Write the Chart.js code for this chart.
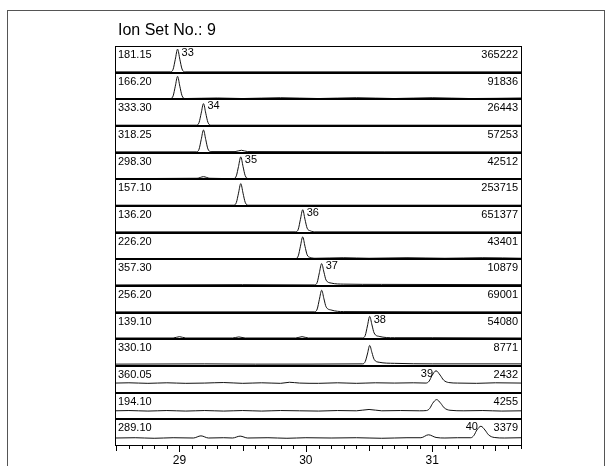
<!DOCTYPE html>
<html>
<head>
<meta charset="utf-8">
<script src="https://cdn.jsdelivr.net/npm/chart.js@4"></script>
<style>
    body { margin: 0; background: #fff; }
    #chartPicture { display: block; }
</style>
</head>
<body>
<canvas id="chartPicture" width="612" height="466"></canvas>
<script>
// ion traces, one panel each, top to bottom
const ionMasses = ["181.15", "166.20", "333.30", "318.25", "298.30", "157.10", "136.20", "226.20",
    "357.30", "256.20", "139.10", "330.10", "360.05", "194.10", "289.10"];
const maxIntensities = ["365222", "91836", "26443", "57253", "42512", "253715", "651377", "43401",
    "10879", "69001", "54080", "8771", "2432", "4255", "3379"];

// peak numbers: panel index, retention time, label side
const peakNumbers = ["33", "34", "35", "36", "37", "38", "39", "40"];
const peakPanels = [0, 2, 4, 6, 8, 10, 12, 14];
const peakTimes = [28.985, 29.19, 29.485, 29.975, 30.125, 30.505, 31.03, 31.385];
const peakSides = ["right", "right", "right", "right", "right", "right", "left", "left"];

const xTickLabels = [29, 30, 31];
const xMin = 28.49;
const xMax = 31.71;

// relative signal in each panel (0 = panel bottom, 1 = panel top), [time, value]
const trace181 = [[28.49,0.03],[28.93,0.03],[28.95,0.13],[28.967,0.5],[28.985,0.88],[29.003,0.5],[29.02,0.14],[29.045,0.03],[31.71,0.03]];
const trace166 = [[28.49,0.03],[28.93,0.03],[28.95,0.13],[28.967,0.49],[28.985,0.86],[29.003,0.49],[29.02,0.14],[29.045,0.03],[29.3,0.05],[29.5,0.03],[29.8,0.06],[30.1,0.03],[30.4,0.06],[30.7,0.03],[31.0,0.06],[31.3,0.03],[31.71,0.05]];
const trace333 = [[28.49,0.03],[29.135,0.03],[29.155,0.13],[29.172,0.48],[29.19,0.84],[29.208,0.48],[29.225,0.14],[29.25,0.03],[31.71,0.03]];
const trace318 = [[28.49,0.03],[29.135,0.03],[29.155,0.13],[29.172,0.49],[29.19,0.85],[29.208,0.49],[29.225,0.14],[29.25,0.04],[29.44,0.04],[29.49,0.09],[29.54,0.04],[31.71,0.03]];
const trace298 = [[28.49,0.03],[29.14,0.04],[29.19,0.1],[29.24,0.04],[29.43,0.03],[29.45,0.13],[29.467,0.48],[29.485,0.84],[29.503,0.48],[29.52,0.14],[29.545,0.03],[31.71,0.03]];
const trace157 = [[28.49,0.03],[29.43,0.03],[29.45,0.13],[29.467,0.48],[29.485,0.84],[29.503,0.48],[29.52,0.14],[29.545,0.03],[31.71,0.03]];
const trace136 = [[28.49,0.03],[29.92,0.03],[29.94,0.13],[29.957,0.5],[29.975,0.86],[29.993,0.5],[30.01,0.17],[30.035,0.07],[30.08,0.03],[31.71,0.03]];
const trace226 = [[28.49,0.03],[29.92,0.03],[29.94,0.13],[29.957,0.49],[29.975,0.84],[29.993,0.49],[30.01,0.17],[30.035,0.07],[30.08,0.04],[30.3,0.06],[30.5,0.04],[30.8,0.06],[31.1,0.04],[31.4,0.06],[31.71,0.04]];
const trace357 = [[28.49,0.04],[29.5,0.05],[30.07,0.04],[30.09,0.14],[30.107,0.5],[30.125,0.84],[30.143,0.52],[30.16,0.22],[30.2,0.11],[30.3,0.07],[30.6,0.06],[31.71,0.05]];
const trace256 = [[28.49,0.03],[30.07,0.03],[30.09,0.14],[30.107,0.5],[30.125,0.84],[30.143,0.52],[30.16,0.22],[30.2,0.1],[30.3,0.04],[31.71,0.03]];
const trace139 = [[28.49,0.05],[28.95,0.05],[29.0,0.1],[29.05,0.05],[29.42,0.05],[29.47,0.09],[29.52,0.05],[29.92,0.05],[29.97,0.1],[30.02,0.05],[30.45,0.05],[30.47,0.15],[30.487,0.5],[30.505,0.86],[30.523,0.54],[30.54,0.24],[30.58,0.11],[30.7,0.06],[31.0,0.06],[31.71,0.05]];
const trace330 = [[28.49,0.07],[29.2,0.08],[29.6,0.07],[30.45,0.08],[30.47,0.17],[30.487,0.45],[30.505,0.77],[30.523,0.5],[30.54,0.25],[30.58,0.14],[30.7,0.1],[31.0,0.08],[31.71,0.08]];
const trace360 = [[28.49,0.36],[28.6,0.37],[28.75,0.35],[28.9,0.37],[29.05,0.35],[29.2,0.36],[29.35,0.38],[29.5,0.35],[29.65,0.37],[29.8,0.35],[29.87,0.39],[29.95,0.36],[30.1,0.35],[30.25,0.37],[30.4,0.35],[30.55,0.37],[30.7,0.36],[30.85,0.37],[30.95,0.36],[30.975,0.43],[30.998,0.64],[31.03,0.82],[31.062,0.66],[31.09,0.47],[31.13,0.38],[31.2,0.36],[31.35,0.35],[31.5,0.37],[31.71,0.36]];
const trace194 = [[28.49,0.32],[28.6,0.33],[28.75,0.31],[28.9,0.33],[29.05,0.31],[29.2,0.33],[29.35,0.31],[29.5,0.33],[29.65,0.31],[29.8,0.33],[29.95,0.32],[30.1,0.31],[30.25,0.33],[30.4,0.32],[30.5,0.37],[30.6,0.32],[30.75,0.33],[30.9,0.32],[30.955,0.33],[30.98,0.41],[31.003,0.6],[31.035,0.74],[31.067,0.6],[31.095,0.43],[31.14,0.34],[31.25,0.32],[31.4,0.33],[31.55,0.31],[31.71,0.32]];
const trace289 = [[28.49,0.3],[28.65,0.31],[28.8,0.29],[28.95,0.31],[29.11,0.3],[29.17,0.38],[29.23,0.3],[29.35,0.31],[29.42,0.3],[29.48,0.37],[29.54,0.3],[29.7,0.31],[29.85,0.29],[30.0,0.31],[30.2,0.3],[30.4,0.31],[30.6,0.29],[30.8,0.31],[30.91,0.31],[30.97,0.42],[31.03,0.32],[31.1,0.3],[31.2,0.31],[31.305,0.31],[31.33,0.4],[31.353,0.6],[31.385,0.74],[31.417,0.6],[31.445,0.42],[31.49,0.32],[31.57,0.3],[31.71,0.31]];

const traces = [trace181, trace166, trace333, trace318, trace298, trace157, trace136, trace226,
    trace357, trace256, trace139, trace330, trace360, trace194, trace289];
const panelCount = traces.length;

const context = document.getElementById("chartPicture");

const datasets = traces.map((trace, index) =>
{
    const offset = panelCount - 1 - index;
    return {
        label: ionMasses[index],
        data: trace.map(point => ({ x: point[0], y: offset + point[1] })),
        borderColor: "#111",
        borderWidth: 1,
        pointRadius: 0,
        fill: false,
        cubicInterpolationMode: "monotone",
    };
});

const frameAndTextPlugin =
{
    id: "frameAndText",
    beforeDraw(chart)
    {
        const ctx = chart.ctx;
        ctx.save();
        ctx.fillStyle = "#fff";
        ctx.fillRect(0, 0, chart.width, chart.height);
        ctx.strokeStyle = "#555";
        ctx.lineWidth = 1;
        ctx.strokeRect(7.5, 10.5, 597, 500);
        ctx.restore();
    },
    afterDatasetsDraw(chart)
    {
        const ctx = chart.ctx;
        const xScale = chart.scales.x;
        const yScale = chart.scales.y;
        const left = Math.round(xScale.left);
        const right = Math.round(xScale.right);
        ctx.save();

        // title
        ctx.fillStyle = "#000";
        ctx.font = "16px 'Liberation Sans', Arial, sans-serif";
        ctx.textBaseline = "middle";
        ctx.textAlign = "left";
        ctx.fillText("Ion Set No.: 9", left + 3, 31);

        // panel boxes with mass and intensity
        ctx.strokeStyle = "#000";
        ctx.lineWidth = 1;
        for(let i = 0; i < panelCount; i++)
        {
            const top = Math.round(yScale.getPixelForValue(panelCount - i));
            const bottom = Math.round(yScale.getPixelForValue(panelCount - 1 - i));
            ctx.strokeRect(left + 0.5, top + 0.5, right - left - 1, bottom - top - 1);

            ctx.font = "11px 'Liberation Sans', Arial, sans-serif";
            ctx.textBaseline = "top";
            ctx.textAlign = "left";
            ctx.fillText(ionMasses[i], left + 3, top + 3);
            ctx.textAlign = "right";
            ctx.fillText(maxIntensities[i], right - 4, top + 3);
        }

        // peak numbers
        ctx.font = "11px 'Liberation Sans', Arial, sans-serif";
        ctx.textBaseline = "top";
        for(let i = 0; i < peakNumbers.length; i++)
        {
            const px = xScale.getPixelForValue(peakTimes[i]);
            const top = Math.round(yScale.getPixelForValue(panelCount - peakPanels[i]));
            if(peakSides[i] === "right")
            {
                ctx.textAlign = "left";
                ctx.fillText(peakNumbers[i], px + 4, top + 1);
            }
            else
            {
                ctx.textAlign = "right";
                ctx.fillText(peakNumbers[i], px - 3, top + 2);
            }
        }

        // x axis ticks
        const base = Math.round(yScale.getPixelForValue(0));
        ctx.beginPath();
        for(let k = Math.ceil(xMin * 10); k <= Math.floor(xMax * 10); k++)
        {
            const px = Math.round(xScale.getPixelForValue(k / 10)) + 0.5;
            let len = 3;
            if(k % 10 === 0) len = 6;
            else if(k % 5 === 0) len = 5;
            ctx.moveTo(px, base);
            ctx.lineTo(px, base + len);
        }
        ctx.stroke();

        ctx.font = "12px 'Liberation Sans', Arial, sans-serif";
        ctx.textAlign = "center";
        ctx.textBaseline = "middle";
        for(const tick of xTickLabels)
        {
            ctx.fillText(String(tick), xScale.getPixelForValue(tick), base + 15);
        }
        ctx.restore();
    }
};

const configObject =
{
    type: "line",
    data:
    {
        datasets: datasets,
    },
    options:
    {
        responsive: false,
        animation: false,
        devicePixelRatio: 1,
        layout:
        {
            padding: { left: 115, right: 90, top: 46, bottom: 20 },
        },
        scales:
        {
            x: { type: "linear", min: xMin, max: xMax, display: false },
            y: { type: "linear", min: 0, max: panelCount, display: false },
        },
        plugins:
        {
            legend: { display: false },
            tooltip: { enabled: false },
        },
    },
    plugins: [frameAndTextPlugin],
};

const myChart = new Chart(context, configObject);
</script>
</body>
</html>
